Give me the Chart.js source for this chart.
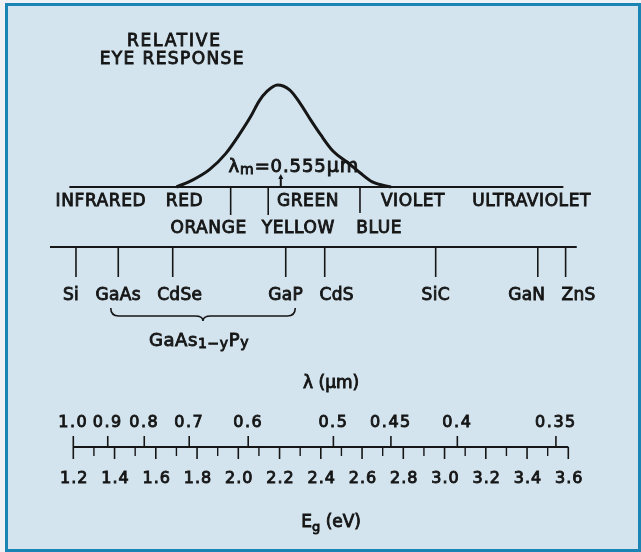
<!DOCTYPE html>
<html>
<head>
<meta charset="utf-8">
<script src="https://cdn.jsdelivr.net/npm/chart.js@4.4.1/dist/chart.umd.min.js"></script>
<style>
html, body { margin: 0; padding: 0; background: #eef2f4; }
#frame { position: absolute; left: 5px; top: 3px; width: 636px; height: 549px; box-sizing: border-box;
         border: 3px solid #1a85b5; background: #d3e4ee; }
#c { position: absolute; left: 0; top: 0; }
</style>
</head>
<body>
<div id="frame"></div>
<canvas id="c" width="641" height="552"></canvas>
<script>
// relative eye response, x in photon energy (eV)
var eyeEg   = [1.70, 1.78, 1.86, 1.94, 2.01, 2.06, 2.10, 2.14, 2.19, 2.25, 2.30, 2.35, 2.40, 2.46, 2.53, 2.59, 2.65, 2.74];
var eyeResp = [0, 0.07, 0.17, 0.33, 0.53, 0.69, 0.84, 0.94, 1.0, 0.95, 0.82, 0.66, 0.51, 0.35, 0.24, 0.14, 0.05, 0];
var peakEg = 2.206;            // lambda_m = 0.555 um
var peakLabel = '0.555';

// colour bands
var bandSpan   = [1.181, 3.576];
var bandEdges  = [1.963, 2.145, 2.590];
var bandNames1 = ['INFRARED', 'RED', 'GREEN', 'VIOLET', 'ULTRAVIOLET'];
var bandPos1   = [1.334, 1.739, 2.338, 2.847, 3.422];
var bandNames2 = ['ORANGE', 'YELLOW', 'BLUE'];
var bandPos2   = [1.856, 2.291, 2.683];

// semiconductors and their band gaps (eV)
var matSpan   = [1.087, 3.641];
var materials = ['Si', 'GaAs', 'CdSe', 'GaP', 'CdS', 'SiC', 'GaN', 'ZnS'];
var materialEg = [1.213, 1.418, 1.682, 2.230, 2.419, 2.957, 3.452, 3.587];

// bottom scales
var egTicks  = [1.2, 1.4, 1.6, 1.8, 2.0, 2.2, 2.4, 2.6, 2.8, 3.0, 3.2, 3.4, 3.6];
var egMinor  = [1.3, 1.5, 1.7, 1.9, 2.1, 2.3, 2.5, 2.7, 2.9, 3.1, 3.3, 3.5];
var lambdaLabels = ['1.0', '0.9', '0.8', '0.7', '0.6', '0.5', '0.45', '0.4', '0.35'];
var lambdaEg     = [1.2, 1.367, 1.544, 1.762, 2.048, 2.461, 2.740, 3.062, 3.540];

var ink = '#161616';
var FONT = '"DejaVu Sans", sans-serif';
// vertical layout (px)
var ROW = { title1: 40, title2: 58, bandLine: 187, band1: 200, band2: 227, matLine: 247, matTick: 277,
            matLabel: 294, braceTop: 308, braceMid: 316, braceTip: 321, alloy: 339, lamTitle: 382,
            lamLabel: 421, axis: 447, egLabel: 477, egTitle: 521 };
var matNudge = [-5, 0, 7, 0, 12, 0, -11, 13];

function text(ctx, s, x, yc, size, align, spacing) {
  ctx.font = size + 'px ' + FONT;
  ctx.letterSpacing = (spacing || 0) + 'px';
  ctx.textAlign = align || 'center';
  ctx.textBaseline = 'alphabetic';
  var y = yc + size * 0.365;
  ctx.fillText(s, x, y);
  ctx.lineWidth = 0.9;
  ctx.strokeText(s, x, y);
}

// pieces: [string, size, dy]
function runs(ctx, pieces, xCenter, yc, spacing) {
  var sp = spacing || 0;
  var widthOf = function (p) {
    ctx.font = p[1] + 'px ' + FONT;
    ctx.letterSpacing = sp + 'px';
    return ctx.measureText(p[0]).width;
  };
  var w = 0;
  pieces.forEach(function (p) { w += widthOf(p); });
  var x = xCenter - w / 2;
  pieces.forEach(function (p) {
    var pw = widthOf(p);
    text(ctx, p[0], x, yc + p[2], p[1], 'left', sp);
    x += pw;
  });
}

function line(ctx, x1, y1, x2, y2, w) {
  ctx.lineWidth = w;
  ctx.beginPath();
  ctx.moveTo(x1, y1);
  ctx.lineTo(x2, y2);
  ctx.stroke();
}

var figure = {
  id: 'figure',
  afterDatasetsDraw: function (chart) {
    var ctx = chart.ctx;
    var X = function (v) { return chart.scales.x.getPixelForValue(v); };
    ctx.save();
    ctx.fillStyle = ink;
    ctx.strokeStyle = ink;
    ctx.lineCap = 'butt';

    text(ctx, 'RELATIVE', X(1.69), ROW.title1, 17, 'center', 1.8);
    text(ctx, 'EYE RESPONSE', X(1.68), ROW.title2, 17, 'center', 1.4);

    // lambda_m marker
    var xp = X(peakEg);
    line(ctx, xp, ROW.bandLine - 11, xp, ROW.bandLine, 2);
    ctx.beginPath();
    ctx.moveTo(xp - 2.5, ROW.bandLine - 8);
    ctx.lineTo(xp, ROW.bandLine - 13);
    ctx.lineTo(xp + 2.5, ROW.bandLine - 8);
    ctx.closePath();
    ctx.fill();
    runs(ctx, [['\u03bb', 18, 0], ['m', 14, 4], ['=0.' + peakLabel.slice(2), 18, 0], ['\u03bcm', 19, 0]], xp + 13, 165, 0.9);

    // colour band line
    line(ctx, X(bandSpan[0]), ROW.bandLine, X(bandSpan[1]), ROW.bandLine, 2);
    bandEdges.forEach(function (e, i) {
      line(ctx, X(e), ROW.bandLine, X(e), ROW.bandLine + (i < 2 ? 28 : 26), 1.6);
    });
    bandNames1.forEach(function (n, i) { text(ctx, n, X(bandPos1[i]), ROW.band1, 17, 'center', 0.6); });
    bandNames2.forEach(function (n, i) { text(ctx, n, X(bandPos2[i]), ROW.band2, 17, 'center', 0.6); });

    // materials
    line(ctx, X(matSpan[0]), ROW.matLine, X(matSpan[1]), ROW.matLine, 2);
    materials.forEach(function (m, i) {
      var x = X(materialEg[i]);
      line(ctx, x, ROW.matLine, x, ROW.matTick, 1.6);
      text(ctx, m, x + matNudge[i], ROW.matLabel, 17, 'center', 0.3);
    });

    // brace GaAs .. GaP
    var bl = X(materialEg[1]) - 7.5, br = X(materialEg[3]) + 9.5, bc = (bl + br) / 2;
    ctx.lineWidth = 1.6;
    ctx.beginPath();
    ctx.moveTo(bl, ROW.braceTop);
    ctx.quadraticCurveTo(bl, ROW.braceMid, bl + 8, ROW.braceMid);
    ctx.lineTo(bc - 8, ROW.braceMid);
    ctx.quadraticCurveTo(bc, ROW.braceMid, bc, ROW.braceTip);
    ctx.quadraticCurveTo(bc, ROW.braceMid, bc + 8, ROW.braceMid);
    ctx.lineTo(br - 8, ROW.braceMid);
    ctx.quadraticCurveTo(br, ROW.braceMid, br, ROW.braceTop);
    ctx.stroke();
    runs(ctx, [['GaAs', 18, 0], ['1\u2212y', 14, 4], ['P', 18, 0], ['y', 14, 3]], bc - 4, ROW.alloy, 0.6);

    // wavelength / energy scale
    runs(ctx, [['\u03bb (\u03bcm)', 17, 0]], X(2.45), ROW.lamTitle);
    var a0 = X(egTicks[0]), a1 = X(egTicks[egTicks.length - 1]);
    line(ctx, a0, ROW.axis, a1, ROW.axis, 2);
    lambdaEg.forEach(function (e, i) {
      var x = X(e);
      line(ctx, x, ROW.axis, x, ROW.axis - 11, 1.6);
      text(ctx, lambdaLabels[i], x, ROW.lamLabel, 16, 'center', 1.5);
    });
    egTicks.forEach(function (e) {
      var x = X(e);
      line(ctx, x, ROW.axis, x, ROW.axis + 12, 1.6);
      text(ctx, e.toFixed(1), x + 1, ROW.egLabel, 16, 'center', 1);
    });
    egMinor.forEach(function (e) {
      var x = X(e);
      line(ctx, x, ROW.axis, x, ROW.axis + 9, 1.4);
    });
    runs(ctx, [['E', 17, 0], ['g', 13, 5], [' (eV)', 17, 0]], X(2.45), ROW.egTitle);
    ctx.restore();
  }
};

var pts = eyeEg.map(function (e, i) { return { x: e, y: eyeResp[i] }; });

var chart = new Chart(document.getElementById('c'), {
  type: 'line',
  data: {
    datasets: [{
      data: pts,
      xAxisID: 'x',
      yAxisID: 'yEye',
      borderColor: ink,
      borderWidth: 3,
      pointRadius: 0,
      fill: false,
      cubicInterpolationMode: 'monotone'
    }]
  },
  options: {
    responsive: false,
    animation: false,
    events: [],
    devicePixelRatio: 1,
    layout: { padding: 0 },
    plugins: { legend: { display: false }, tooltip: { enabled: false } },
    scales: {
      x: { type: 'linear', min: 0.84461, max: 3.95249, display: false },
      yEye: { type: 'linear', axis: 'y', min: -3.57843, max: 1.83333, display: false }
    }
  },
  plugins: [figure]
});
</script>
</body>
</html>
